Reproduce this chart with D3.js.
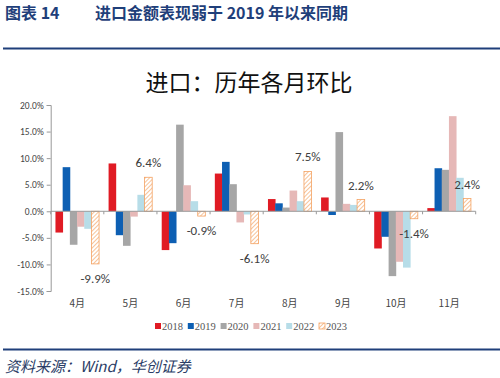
<!DOCTYPE html>
<html>
<head>
<meta charset="utf-8">
<script src="https://cdn.jsdelivr.net/npm/d3@7"></script>
<style>
  body { margin: 0; background: #fff; }
  svg { display: block; }
</style>
</head>
<body>
<svg id="viz" width="500" height="378"></svg>
<script>
// months on the x axis
var months = ["4月", "5月", "6月", "7月", "8月", "9月", "10月", "11月"];
var years = ["2018", "2019", "2020", "2021", "2022", "2023"];
// month-on-month change, %
var v2018 = [-4.0, 9.0, -7.3, 7.1, 2.3, 2.6, -7.0, 0.6];
var v2019 = [8.3, -4.5, -6.0, 9.3, 1.5, -0.7, -4.8, 8.1];
var v2020 = [-6.3, -6.5, 16.3, 5.1, 0.7, 14.9, -12.2, 7.8];
var v2021 = [-2.9, -1.0, 4.9, -2.1, 3.9, 1.4, -9.5, 17.9];
var v2022 = [-3.3, 3.1, 1.9, -0.6, 1.9, 1.2, -10.6, 6.3];
var v2023 = [-9.9, 6.4, -0.9, -6.1, 7.5, 2.2, -1.4, 2.4];
var yTicks = [20, 15, 10, 5, 0, -5, -10, -15];

var series = [v2018, v2019, v2020, v2021, v2022, v2023];
var colors = ["#e01b24", "#0d5fb3", "#a6a6a6", "#e6b8b7", "#b7dde8", "#f4a262"];

var svg = d3.select("#viz");
var navy = "#1f3f7a";

// hatch for 2023
var defs = svg.append("defs");
var pat = defs.append("pattern")
    .attr("id", "hatch")
    .attr("patternUnits", "userSpaceOnUse")
    .attr("width", 3).attr("height", 3)
    .attr("patternTransform", "rotate(45)");
pat.append("rect").attr("width", 3).attr("height", 3).attr("fill", "#fff");
pat.append("line").attr("x1", 0).attr("y1", 0).attr("x2", 0).attr("y2", 3)
    .attr("stroke", "#f4a262").attr("stroke-width", 1.3);

// header
var head = svg.append("text").attr("x", 5).attr("y", 19)
    .style("font-family", "'Noto Sans CJK SC'").style("font-weight", "bold")
    .style("font-size", "16px").attr("fill", navy);
head.append("tspan").text("图表 14");
head.append("tspan").attr("x", 95).text("进口金额表现弱于 2019 年以来同期");

svg.append("line").attr("x1", 3).attr("x2", 500).attr("y1", 48.5).attr("y2", 48.5)
    .attr("stroke", navy).attr("stroke-width", 2);

svg.append("text").attr("x", 249).attr("y", 91)
    .attr("text-anchor", "middle")
    .style("font-family", "'Noto Sans CJK SC'").style("font-size", "23px")
    .attr("fill", "#111").text("进口：历年各月环比");

var x0 = d3.scaleBand().domain(months).range([50.7, 475.7]).padding(0);
var y = d3.scaleLinear().domain([-15, 20]).range([291, 105]);
var step = 7.2, bw = 7.6;

// y axis
var yAxis = svg.append("g").attr("transform", "translate(50.7,0)")
    .call(d3.axisLeft(y).tickValues(yTicks).tickSize(4)
        .tickFormat(function (d) { return d.toFixed(1) + "%"; }));
yAxis.select(".domain").attr("stroke", "#999");
yAxis.selectAll(".tick line").attr("stroke", "#999");
yAxis.selectAll(".tick text")
    .style("font-family", "Calibri, 'Liberation Sans', Arial")
    .style("font-size", "9.5px").attr("fill", "#444");

// bars
series.forEach(function (vals, s) {
    svg.append("g").selectAll("rect")
        .data(vals)
        .enter()
        .append("rect")
        .attr("x", function (d, i) {
            return x0(months[i]) + x0.bandwidth() / 2 + (s - 2.5) * step - bw / 2;
        })
        .attr("y", function (d) { return y(Math.max(0, d)); })
        .attr("width", bw)
        .attr("height", function (d) { return Math.abs(y(d) - y(0)); })
        .attr("fill", s == 5 ? "url(#hatch)" : colors[s])
        .attr("stroke", s == 5 ? colors[5] : "none")
        .attr("stroke-width", 0.8);
});

// zero line with category ticks
svg.append("line").attr("x1", 50.7).attr("x2", 475.7)
    .attr("y1", y(0)).attr("y2", y(0)).attr("stroke", "#999");
svg.append("g").selectAll("line")
    .data(months.concat(["end"]))
    .enter()
    .append("line")
    .attr("x1", function (d, i) { return 50.7 + i * x0.bandwidth(); })
    .attr("x2", function (d, i) { return 50.7 + i * x0.bandwidth(); })
    .attr("y1", y(0)).attr("y2", y(0) + 3)
    .attr("stroke", "#999");

// month labels
svg.append("g").selectAll("text")
    .data(months)
    .enter()
    .append("text")
    .attr("x", function (d) { return x0(d) + x0.bandwidth() / 2; })
    .attr("y", 307)
    .attr("text-anchor", "middle")
    .style("font-family", "'Noto Sans CJK SC'").style("font-size", "10px")
    .attr("fill", "#444")
    .text(function (d) { return d; });

// 2023 value labels
svg.append("g").selectAll("text")
    .data(v2023)
    .enter()
    .append("text")
    .attr("x", function (d, i) { return x0(months[i]) + x0.bandwidth() / 2 + 2.5 * step; })
    .attr("y", function (d) { return d >= 0 ? y(d) - 10 : y(d) + 19; })
    .attr("text-anchor", "middle")
    .style("font-family", "Calibri, 'Liberation Sans', Arial").style("font-size", "13px")
    .attr("fill", "#404040")
    .text(function (d) { return d.toFixed(1) + "%"; });

// legend
var leg = svg.append("g").selectAll("g")
    .data(years)
    .enter()
    .append("g")
    .attr("transform", function (d, i) { return "translate(" + (155 + i * 32.8) + ",323)"; });
leg.append("rect").attr("width", 6).attr("height", 6)
    .attr("fill", function (d, i) { return i == 5 ? "url(#hatch)" : colors[i]; })
    .attr("stroke", function (d, i) { return i == 5 ? colors[5] : "none"; })
    .attr("stroke-width", 0.8);
leg.append("text").attr("x", 7).attr("y", 6.5)
    .style("font-family", "'Liberation Serif'").style("font-size", "10.5px")
    .attr("fill", "#555")
    .text(function (d) { return d; });

svg.append("line").attr("x1", 3).attr("x2", 500).attr("y1", 349.5).attr("y2", 349.5)
    .attr("stroke", navy).attr("stroke-width", 2);

svg.append("text").attr("x", 5).attr("y", 372)
    .style("font-family", "'Noto Sans CJK SC'").style("font-size", "15px")
    .style("font-style", "italic").attr("fill", "#2a3c66")
    .text("资料来源：Wind，华创证券");
</script>
</body>
</html>
